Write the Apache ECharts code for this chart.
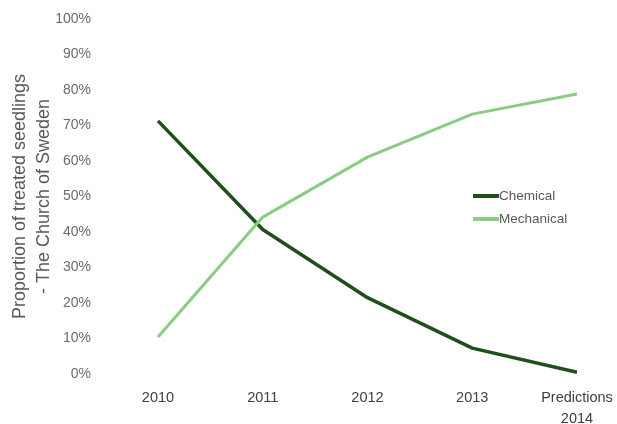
<!DOCTYPE html>
<html>
<head>
<meta charset="utf-8">
<script src="https://cdn.jsdelivr.net/npm/echarts@6/dist/echarts.min.js"></script>
<style>
  html, body { margin: 0; padding: 0; background: #fff; }
  #chart { width: 617px; height: 424px; }
</style>
</head>
<body>
<div id="chart"></div>
<script>
// Years on the horizontal axis
const categories = ['2010', '2011', '2012', '2013', 'Predictions\n2014'];
// Share of seedlings treated, percent
const chemical = [71.3, 40.7, 21.5, 7.3, 0.5];
const mechanical = [10.4, 44.2, 61.1, 73.2, 78.9];
const yTitle = 'Proportion of treated seedlings\n- The Church of Sweden';

const font = 'Liberation Sans, Arial, sans-serif';

const chart = echarts.init(document.getElementById('chart'), null, { renderer: 'canvas' });
chart.setOption({
  animation: false,
  backgroundColor: '#ffffff',
  grid: { left: 158, right: 40, top: 19, bottom: 50, outerBoundsMode: 'none', containLabel: false },
  legend: {
    orient: 'vertical',
    left: 468,
    top: 184,
    itemWidth: 26,
    itemHeight: 4,
    itemGap: 9,
    icon: 'rect',
    textStyle: { color: '#595959', fontSize: 13.5, fontFamily: font, padding: [0, 0, 0, -5] },
    data: ['Chemical', 'Mechanical']
  },
  xAxis: {
    type: 'category',
    data: categories,
    boundaryGap: false,
    axisLine: { show: false },
    axisTick: { show: false },
    axisLabel: { color: '#404040', fontSize: 14.5, fontFamily: font, margin: 13, lineHeight: 21 }
  },
  yAxis: {
    type: 'value',
    min: 0,
    max: 100,
    interval: 10,
    name: yTitle,
    nameLocation: 'middle',
    nameGap: 102,
    nameMoveOverlap: false,
    nameTextStyle: { color: '#595959', fontSize: 18, fontFamily: font, lineHeight: 24 },
    axisLine: { show: false },
    axisTick: { show: false },
    splitLine: { show: false },
    axisLabel: { color: '#6b6b6b', fontSize: 14, fontFamily: font, margin: 67, formatter: '{value}%' }
  },
  series: [
    {
      name: 'Chemical',
      type: 'line',
      data: chemical,
      symbol: 'none',
      color: '#1f4f1c',
      lineStyle: { width: 3.5, color: '#1f4f1c' }
    },
    {
      name: 'Mechanical',
      type: 'line',
      data: mechanical,
      symbol: 'none',
      color: '#88cd82',
      lineStyle: { width: 3, color: '#88cd82' }
    }
  ]
});
</script>
</body>
</html>
